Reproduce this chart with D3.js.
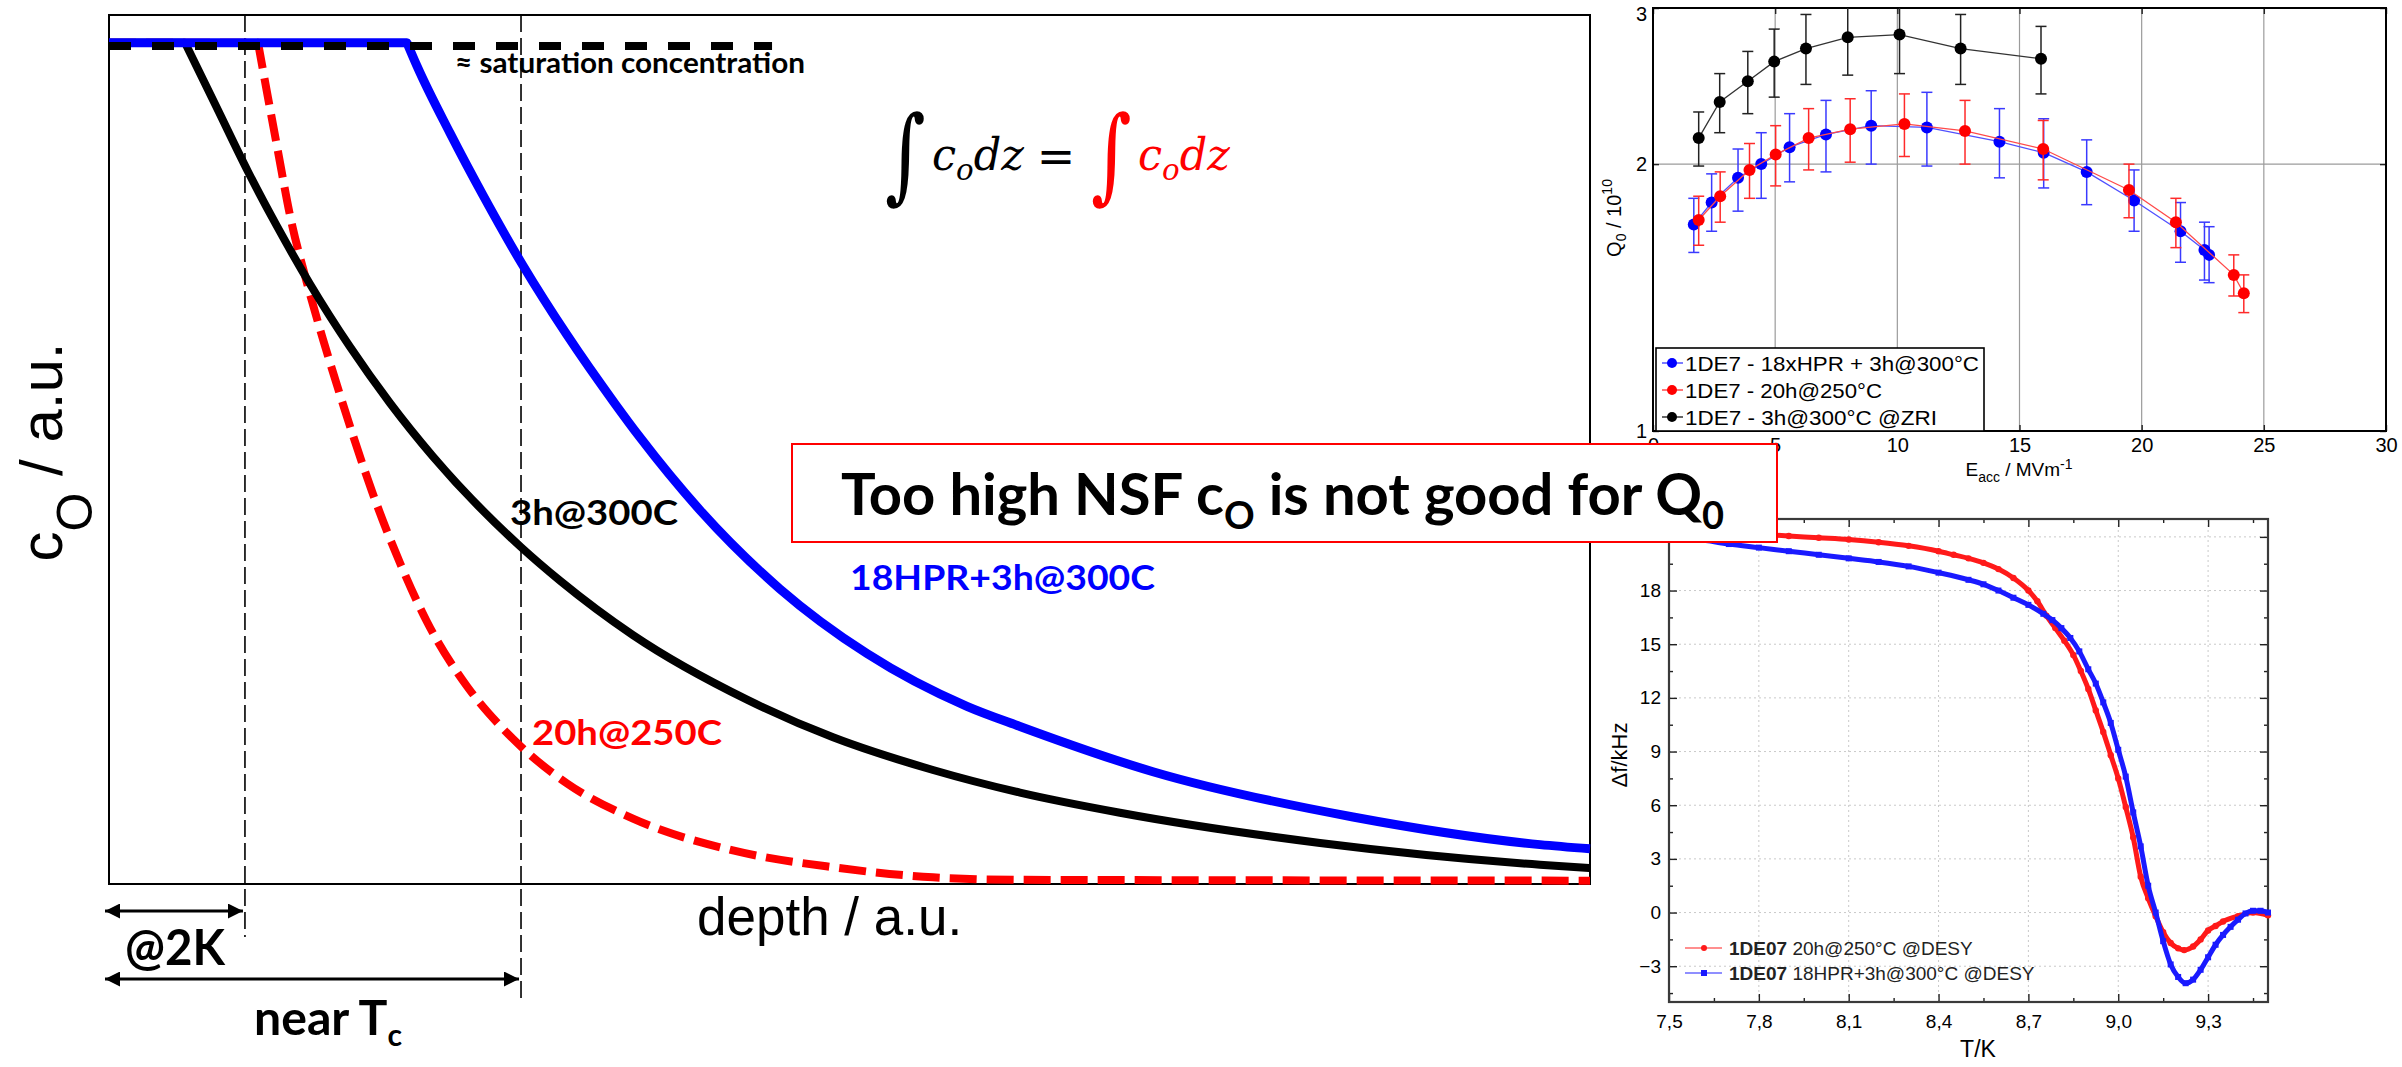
<!DOCTYPE html>
<html>
<head>
<meta charset="utf-8">
<script src="https://cdn.jsdelivr.net/npm/d3@7/dist/d3.min.js"></script>
<style>
  html, body { margin: 0; padding: 0; background: #fff; }
  svg { display: block; }
</style>
</head>
<body>
<svg id="chart" width="2402" height="1067" viewBox="0 0 2402 1067"></svg>
<script>
// ---------- schematic oxygen depth profiles (arbitrary units) ----------
const depth300 = [0, 0.0513, 0.0729, 0.0939, 0.1134, 0.1357, 0.1627, 0.1897, 0.2188, 0.2782, 0.3045, 0.3538, 0.4308, 0.4889, 0.5564, 0.6151, 0.6826, 0.8177, 0.9662, 1.0];
const conc300  = [1.004, 1.004, 0.926, 0.850, 0.785, 0.716, 0.641, 0.574, 0.510, 0.402, 0.362, 0.297, 0.220, 0.175, 0.136, 0.109, 0.085, 0.049, 0.023, 0.019];

const depth250 = [0, 0.1006, 0.1074, 0.1141, 0.1222, 0.1337, 0.1445, 0.1540, 0.1648, 0.1783, 0.1965, 0.2147, 0.2417, 0.2640, 0.2782, 0.3093, 0.3538, 0.4213, 0.4889, 0.5564, 0.6151, 1.0];
const conc250  = [1.004, 1.004, 0.938, 0.874, 0.798, 0.717, 0.650, 0.595, 0.535, 0.465, 0.383, 0.313, 0.236, 0.189, 0.164, 0.120, 0.078, 0.040, 0.020, 0.008, 0.005, 0.004];

const depthHPR = [0, 0.2012, 0.2080, 0.2303, 0.2525, 0.2795, 0.3093, 0.3417, 0.3585, 0.3991, 0.4531, 0.5118, 0.5793, 0.6151, 0.7049, 0.8400, 0.9662, 1.0];
const concHPR  = [1.004, 1.004, 0.976, 0.896, 0.822, 0.738, 0.655, 0.573, 0.533, 0.446, 0.352, 0.275, 0.212, 0.188, 0.134, 0.080, 0.047, 0.042];

const saturationLevel = 1.0;
const saturationEnd = 0.4477;
const markerDepth = [0.0918, 0.2782];

// ---------- Q0 vs Eacc ----------
const eaccTicks = [0, 5, 10, 15, 20, 25, 30];
const q0Ticks = [1, 2, 3];

const hprE  = [1.67, 2.40, 3.48, 4.43, 5.59, 7.08, 8.93, 11.21, 14.18, 15.99, 17.75, 19.69, 21.59, 22.57, 22.76];
const hprQ  = [1.71, 1.81, 1.93, 2.00, 2.09, 2.16, 2.21, 2.20, 2.12, 2.06, 1.96, 1.82, 1.68, 1.60, 1.58];
const hprLo = [1.59, 1.68, 1.77, 1.83, 1.91, 1.96, 2.00, 1.99, 1.93, 1.88, 1.80, 1.68, 1.55, 1.48, 1.47];
const hprHi = [1.83, 1.95, 2.08, 2.17, 2.28, 2.36, 2.42, 2.41, 2.31, 2.25, 2.13, 1.97, 1.81, 1.72, 1.70];

const bakeE  = [1.87, 2.75, 3.95, 5.02, 6.37, 8.07, 10.29, 12.77, 15.97, 19.48, 21.40, 23.77, 24.18];
const bakeQ  = [1.73, 1.84, 1.97, 2.05, 2.14, 2.19, 2.22, 2.18, 2.08, 1.87, 1.72, 1.50, 1.43];
const bakeLo = [1.62, 1.72, 1.83, 1.89, 1.97, 2.01, 2.04, 2.00, 1.92, 1.74, 1.61, 1.42, 1.36];
const bakeHi = [1.84, 1.96, 2.11, 2.21, 2.31, 2.37, 2.40, 2.36, 2.24, 2.00, 1.83, 1.58, 1.50];

const zriE  = [1.87, 2.73, 3.88, 4.96, 6.26, 7.97, 10.09, 12.59, 15.88];
const zriQ  = [2.14, 2.35, 2.48, 2.61, 2.70, 2.78, 2.80, 2.70, 2.63];
const zriLo = [1.99, 2.17, 2.28, 2.38, 2.46, 2.52, 2.53, 2.46, 2.40];
const zriHi = [2.29, 2.53, 2.68, 2.84, 2.95, 3.07, 3.10, 2.95, 2.86];

// ---------- frequency shift vs temperature ----------
const dfTempTicks  = [7.5, 7.8, 8.1, 8.4, 8.7, 9.0, 9.3];
const dfTempMinor  = [7.65, 7.95, 8.25, 8.55, 8.85, 9.15, 9.45];
const dfShiftTicks = [-3, 0, 3, 6, 9, 12, 15, 18, 21];
const dfShiftMinor = [-4.5, -1.5, 1.5, 4.5, 7.5, 10.5, 13.5, 16.5, 19.5];

const dfT250 = [7.50, 7.60, 7.70, 7.80, 7.90, 8.00, 8.10, 8.20, 8.30, 8.40, 8.45, 8.50, 8.55, 8.60, 8.65, 8.70, 8.73, 8.76, 8.79, 8.82, 8.85, 8.875, 8.90, 8.925, 8.95, 8.975, 9.00, 9.025, 9.05, 9.075, 9.10, 9.125, 9.15, 9.175, 9.20, 9.22, 9.25, 9.275, 9.30, 9.325, 9.35, 9.40, 9.45, 9.50];
const df250  = [21.4, 21.3, 21.25, 21.15, 21.05, 20.95, 20.85, 20.7, 20.5, 20.2, 20.0, 19.8, 19.55, 19.2, 18.7, 18.0, 17.4, 16.6, 15.9, 15.2, 14.4, 13.5, 12.5, 11.3, 10.1, 8.8, 7.5, 5.9, 4.2, 2.0, 0.8, -0.2, -1.1, -1.7, -2.0, -2.1, -1.9, -1.5, -1.0, -0.75, -0.5, -0.2, 0.0, -0.15];

const dfT300 = [7.50, 7.60, 7.70, 7.80, 7.90, 8.00, 8.10, 8.20, 8.30, 8.40, 8.50, 8.55, 8.60, 8.65, 8.70, 8.75, 8.78, 8.81, 8.84, 8.87, 8.90, 8.925, 8.95, 8.975, 9.00, 9.025, 9.05, 9.075, 9.10, 9.125, 9.15, 9.175, 9.20, 9.225, 9.25, 9.275, 9.30, 9.325, 9.35, 9.375, 9.40, 9.425, 9.45, 9.475, 9.50];
const df300  = [21.0, 20.85, 20.6, 20.4, 20.2, 20.0, 19.8, 19.6, 19.35, 19.0, 18.6, 18.35, 18.0, 17.6, 17.2, 16.7, 16.35, 15.9, 15.35, 14.6, 13.6, 12.8, 11.75, 10.6, 9.1, 7.6, 5.6, 3.7, 1.5, 0.0, -1.6, -2.9, -3.6, -3.95, -3.75, -3.2, -2.5, -1.8, -1.25, -0.8, -0.4, -0.05, 0.1, 0.1, 0.0];

// ======================================================================
const svg = d3.select("#chart");
const ARIAL = "'Liberation Sans', Arial, Helvetica, sans-serif";
const CAL = "Lato, 'Open Sans', sans-serif";
const SERIF = "'DejaVu Serif', 'Liberation Serif', serif";

const fitW = (sel, w) => sel.attr("textLength", w).attr("lengthAdjust", "spacingAndGlyphs");
function styleAxis(g, size) {
  g.attr("font-family", ARIAL).attr("font-size", size);
  g.selectAll(".tick text").attr("fill", "#000");
  g.selectAll(".tick line").attr("stroke", "#222").attr("stroke-width", 1.4);
  g.select(".domain").remove();
}

const defs = svg.append("defs");
defs.append("marker").attr("id", "arrowHead")
  .attr("viewBox", "0 0 10 10").attr("refX", 10).attr("refY", 5)
  .attr("markerUnits", "userSpaceOnUse").attr("markerWidth", 15).attr("markerHeight", 15)
  .attr("orient", "auto-start-reverse")
  .append("path").attr("d", "M0,0 L10,5 L0,10 Z").attr("fill", "#000");

// ===================== panel 1: concentration profiles =====================
const xD = d3.scaleLinear().domain([0, 1]).range([109, 1590]);
const yC = d3.scaleLinear().domain([0, 1]).range([884, 46]);
const cTop = 1.037;
const p1 = svg.append("g");

// penetration-depth guides
const guideEnd = [937, 1003];
p1.selectAll("line.guide").data(markerDepth).join("line").attr("class", "guide")
  .attr("x1", d => xD(d)).attr("x2", d => xD(d))
  .attr("y1", yC(cTop)).attr("y2", (d, i) => guideEnd[i])
  .attr("stroke", "#000").attr("stroke-width", 1.6).attr("stroke-dasharray", "17,6");

// frame
p1.append("rect").attr("x", xD(0)).attr("y", yC(cTop))
  .attr("width", xD(1) - xD(0)).attr("height", yC(0) - yC(cTop))
  .attr("fill", "none").attr("stroke", "#000").attr("stroke-width", 2);

function profilePath(depth, conc) {
  const pts = depth.map((d, i) => [xD(d), yC(conc[i])]);
  const k = conc.findIndex(c => c < conc[0]) - 1;
  const flat = d3.line()(pts.slice(0, k + 1));
  const tail = d3.line().curve(d3.curveMonotoneX)(pts.slice(k));
  return flat + tail.replace(/^M/, "L");
}
const profiles = [
  { depth: depth250, conc: conc250, color: "#ff0000", width: 8, dash: "27,10" },
  { depth: depth300, conc: conc300, color: "#000000", width: 8, dash: null },
  { depth: depthHPR, conc: concHPR, color: "#0000ff", width: 9, dash: null }
];
profiles.forEach(p => {
  p1.append("path").attr("d", profilePath(p.depth, p.conc))
    .attr("fill", "none").attr("stroke", p.color).attr("stroke-width", p.width)
    .attr("stroke-dasharray", p.dash).attr("stroke-linejoin", "round");
});

// saturation level
p1.append("line").attr("x1", xD(0)).attr("x2", xD(saturationEnd))
  .attr("y1", yC(saturationLevel)).attr("y2", yC(saturationLevel))
  .attr("stroke", "#000").attr("stroke-width", 8).attr("stroke-dasharray", "22,21");
fitW(p1.append("text").attr("x", 455).attr("y", 73).attr("font-family", CAL).attr("font-weight", 700)
  .attr("font-size", 28).text("≈ saturation concentration"), 350);

// curve labels
const lbl = (x, y, txt, col, w) => fitW(p1.append("text").attr("x", x).attr("y", y)
  .attr("font-family", CAL).attr("font-weight", 700).attr("font-size", 35).attr("fill", col).text(txt), w);
lbl(510, 525, "3h@300C", "#000", 168);
lbl(850, 590, "18HPR+3h@300C", "#0000ff", 305);
lbl(532, 745, "20h@250C", "#ff0000", 190);

// axis titles
p1.append("text").attr("x", 697).attr("y", 935).attr("font-family", ARIAL).attr("font-size", 53).text("depth / a.u.");
const yt = p1.append("text").attr("transform", "translate(62,452) rotate(-90)").attr("text-anchor", "middle")
  .attr("font-family", ARIAL).attr("font-size", 60);
yt.append("tspan").text("c");
yt.append("tspan").attr("font-size", 50).attr("dy", 30).text("O");
yt.append("tspan").attr("dy", -30).text(" / a.u.");

// range arrows
const arrowY = [911, 979];
p1.selectAll("line.rng").data(markerDepth).join("line").attr("class", "rng")
  .attr("x1", xD(0) - 4).attr("x2", d => xD(d) - 2)
  .attr("y1", (d, i) => arrowY[i]).attr("y2", (d, i) => arrowY[i])
  .attr("stroke", "#000").attr("stroke-width", 3)
  .attr("marker-start", "url(#arrowHead)").attr("marker-end", "url(#arrowHead)");
fitW(p1.append("text").attr("x", 125).attr("y", 965).attr("font-family", CAL).attr("font-weight", 700)
  .attr("font-size", 50).text("@2K"), 100);
const tc = p1.append("text").attr("x", 254).attr("y", 1035).attr("font-family", CAL).attr("font-weight", 700).attr("font-size", 48);
tc.append("tspan").text("near T");
tc.append("tspan").attr("font-size", 30).attr("dy", 11).text("c");
fitW(tc, 148);

// equal-dose integral
function integral(x, col) {
  p1.append("text").attr("transform", `translate(${x},190) scale(0.75,1)`)
    .attr("font-family", SERIF).attr("font-size", 104).attr("fill", col).text("∫");
}
function cdz(x, col) {
  const t = p1.append("text").attr("x", x).attr("y", 170).attr("font-family", SERIF)
    .attr("font-style", "italic").attr("font-size", 44).attr("fill", col);
  t.append("tspan").text("c");
  t.append("tspan").attr("font-size", 30).attr("dy", 10).text("o");
  t.append("tspan").attr("dy", -10).text("dz");
  fitW(t, 92);
}
integral(885, "#000"); cdz(932, "#000");
p1.append("text").attr("x", 1056).attr("y", 172).attr("text-anchor", "middle")
  .attr("font-family", SERIF).attr("font-size", 46).text("=");
integral(1091, "#ff0000"); cdz(1138, "#ff0000");

// ===================== panel 2: Q0 vs Eacc =====================
const xE = d3.scaleLinear().domain([0, 30]).range([1653, 2386]);
const yQ = d3.scaleLog().domain([1, 3]).range([431, 8]);
const p2 = svg.append("g");

p2.append("g").selectAll("line").data(eaccTicks.filter(t => t > 0 && t < 30)).join("line")
  .attr("x1", d => xE(d)).attr("x2", d => xE(d)).attr("y1", yQ(1)).attr("y2", yQ(3))
  .attr("stroke", "#9b9b9b").attr("stroke-width", 1.2);
p2.append("g").selectAll("line").data(q0Ticks.filter(t => t > 1 && t < 3)).join("line")
  .attr("x1", xE(0)).attr("x2", xE(30)).attr("y1", d => yQ(d)).attr("y2", d => yQ(d))
  .attr("stroke", "#9b9b9b").attr("stroke-width", 1.2);

p2.append("g").attr("transform", `translate(0,${yQ(1)})`)
  .call(d3.axisBottom(xE).tickValues(eaccTicks).tickFormat(d3.format("d")).tickSizeInner(-6).tickSizeOuter(0).tickPadding(7))
  .call(g => styleAxis(g, 20));
p2.append("g").attr("transform", `translate(${xE(0)},0)`)
  .call(d3.axisLeft(yQ).tickValues(q0Ticks).tickFormat(d3.format("d")).tickSizeInner(-6).tickSizeOuter(0).tickPadding(6))
  .call(g => styleAxis(g, 20))
  .call(g => g.selectAll(".tick text").filter(d => d === 3).attr("dy", "0.62em"));
p2.append("g").attr("transform", `translate(0,${yQ(3)})`)
  .call(d3.axisTop(xE).tickValues(eaccTicks).tickFormat(() => "").tickSizeInner(-6).tickSizeOuter(0))
  .call(g => styleAxis(g, 20));
p2.append("g").attr("transform", `translate(${xE(30)},0)`)
  .call(d3.axisRight(yQ).tickValues(q0Ticks).tickFormat(() => "").tickSizeInner(-6).tickSizeOuter(0))
  .call(g => styleAxis(g, 20));
p2.append("rect").attr("x", xE(0)).attr("y", yQ(3)).attr("width", xE(30) - xE(0)).attr("height", yQ(1) - yQ(3))
  .attr("fill", "none").attr("stroke", "#000").attr("stroke-width", 2);

defs.append("clipPath").attr("id", "q0clip").append("rect")
  .attr("x", xE(0)).attr("y", yQ(3)).attr("width", xE(30) - xE(0)).attr("height", yQ(1) - yQ(3));

const q0Series = [
  { label: "1DE7 - 3h@300°C @ZRI", E: zriE, Q: zriQ, lo: zriLo, hi: zriHi, dot: "#000000", line: "#333333", bar: "#222222", w: 252 },
  { label: "1DE7 - 18xHPR + 3h@300°C", E: hprE, Q: hprQ, lo: hprLo, hi: hprHi, dot: "#0000ff", line: "#5050ff", bar: "#3a3aff", w: 294 },
  { label: "1DE7 - 20h@250°C", E: bakeE, Q: bakeQ, lo: bakeLo, hi: bakeHi, dot: "#ff0000", line: "#ff4a4a", bar: "#ff2a2a", w: 197 }
];
const plotQ = p2.append("g").attr("clip-path", "url(#q0clip)");
q0Series.forEach(s => {
  const g = plotQ.append("g");
  const idx = d3.range(s.E.length);
  g.append("path").attr("d", d3.line().x(i => xE(s.E[i])).y(i => yQ(s.Q[i]))(idx))
    .attr("fill", "none").attr("stroke", s.line).attr("stroke-width", 1.3);
  g.selectAll("line.eb").data(idx).join("line").attr("class", "eb")
    .attr("x1", i => xE(s.E[i])).attr("x2", i => xE(s.E[i]))
    .attr("y1", i => yQ(s.lo[i])).attr("y2", i => yQ(s.hi[i]))
    .attr("stroke", s.bar).attr("stroke-width", 1.5);
  ["lo", "hi"].forEach(k => {
    g.selectAll("line.cap" + k).data(idx).join("line").attr("class", "cap" + k)
      .attr("x1", i => xE(s.E[i]) - 5.5).attr("x2", i => xE(s.E[i]) + 5.5)
      .attr("y1", i => yQ(s[k][i])).attr("y2", i => yQ(s[k][i]))
      .attr("stroke", s.bar).attr("stroke-width", 1.5);
  });
  g.selectAll("circle").data(idx).join("circle")
    .attr("cx", i => xE(s.E[i])).attr("cy", i => yQ(s.Q[i])).attr("r", 6).attr("fill", s.dot);
});

// legend
const lgQ = p2.append("g");
lgQ.append("rect").attr("x", 1656).attr("y", 348).attr("width", 328).attr("height", 83)
  .attr("fill", "#fff").attr("stroke", "#000").attr("stroke-width", 1.6);
[q0Series[1], q0Series[2], q0Series[0]].forEach((s, i) => {
  const y = 363 + i * 27;
  lgQ.append("line").attr("x1", 1662).attr("x2", 1683).attr("y1", y).attr("y2", y).attr("stroke", s.line).attr("stroke-width", 1.5);
  lgQ.append("circle").attr("cx", 1672).attr("cy", y).attr("r", 5).attr("fill", s.dot);
  fitW(lgQ.append("text").attr("x", 1685).attr("y", y + 7.5).attr("font-family", ARIAL).attr("font-size", 21).text(s.label), s.w);
});

// axis titles
const qt = p2.append("text").attr("transform", "translate(1621,218) rotate(-90)").attr("text-anchor", "middle")
  .attr("font-family", ARIAL).attr("font-size", 20);
qt.append("tspan").text("Q");
qt.append("tspan").attr("font-size", 14).attr("dy", 5).text("0");
qt.append("tspan").attr("dy", -5).text(" / 10");
qt.append("tspan").attr("font-size", 14).attr("dy", -9).text("10");
const et = p2.append("text").attr("x", 2019).attr("y", 476).attr("text-anchor", "middle")
  .attr("font-family", ARIAL).attr("font-size", 19);
et.append("tspan").text("E");
et.append("tspan").attr("font-size", 14).attr("dy", 6).text("acc");
et.append("tspan").attr("dy", -6).text(" / MVm");
et.append("tspan").attr("font-size", 14).attr("dy", -7).text("-1");

// ===================== panel 3: frequency shift vs T =====================
const xT = d3.scaleLinear().domain([7.5, 9.5]).range([1669, 2268]);
const yF = d3.scaleLinear().domain([-5, 22]).range([1002, 519]);
const p3 = svg.append("g");
const comma = d => d3.format(".1f")(d).replace(".", ",");

p3.append("g").selectAll("line").data(dfTempTicks.slice(1)).join("line")
  .attr("x1", d => xT(d)).attr("x2", d => xT(d)).attr("y1", yF(-5)).attr("y2", yF(22))
  .attr("stroke", "#c9c9c9").attr("stroke-width", 1).attr("stroke-dasharray", "2,3");
p3.append("g").selectAll("line").data(dfShiftTicks).join("line")
  .attr("x1", xT(7.5)).attr("x2", xT(9.5)).attr("y1", d => yF(d)).attr("y2", d => yF(d))
  .attr("stroke", "#c9c9c9").attr("stroke-width", 1).attr("stroke-dasharray", "2,3");

p3.append("g").attr("transform", `translate(0,${yF(-5)})`)
  .call(d3.axisBottom(xT).tickValues(dfTempTicks).tickFormat(comma).tickSizeInner(-8).tickSizeOuter(0).tickPadding(13))
  .call(g => styleAxis(g, 19));
p3.append("g").attr("transform", `translate(0,${yF(-5)})`)
  .call(d3.axisBottom(xT).tickValues(dfTempMinor).tickFormat(() => "").tickSizeInner(-4).tickSizeOuter(0))
  .call(g => styleAxis(g, 19));
p3.append("g").attr("transform", `translate(0,${yF(22)})`)
  .call(d3.axisTop(xT).tickValues(dfTempTicks).tickFormat(() => "").tickSizeInner(-8).tickSizeOuter(0))
  .call(g => styleAxis(g, 19));
p3.append("g").attr("transform", `translate(0,${yF(22)})`)
  .call(d3.axisTop(xT).tickValues(dfTempMinor).tickFormat(() => "").tickSizeInner(-4).tickSizeOuter(0))
  .call(g => styleAxis(g, 19));
p3.append("g").attr("transform", `translate(${xT(7.5)},0)`)
  .call(d3.axisLeft(yF).tickValues(dfShiftTicks).tickFormat(d3.format("d")).tickSizeInner(-8).tickSizeOuter(0).tickPadding(8))
  .call(g => styleAxis(g, 19));
p3.append("g").attr("transform", `translate(${xT(7.5)},0)`)
  .call(d3.axisLeft(yF).tickValues(dfShiftMinor).tickFormat(() => "").tickSizeInner(-4).tickSizeOuter(0))
  .call(g => styleAxis(g, 19));
p3.append("g").attr("transform", `translate(${xT(9.5)},0)`)
  .call(d3.axisRight(yF).tickValues(dfShiftTicks).tickFormat(() => "").tickSizeInner(-8).tickSizeOuter(0))
  .call(g => styleAxis(g, 19));
p3.append("g").attr("transform", `translate(${xT(9.5)},0)`)
  .call(d3.axisRight(yF).tickValues(dfShiftMinor).tickFormat(() => "").tickSizeInner(-4).tickSizeOuter(0))
  .call(g => styleAxis(g, 19));
p3.append("rect").attr("x", xT(7.5)).attr("y", yF(22)).attr("width", xT(9.5) - xT(7.5)).attr("height", yF(-5) - yF(22))
  .attr("fill", "none").attr("stroke", "#3a3a3a").attr("stroke-width", 2.2);

const dfSeries = [
  { T: dfT250, f: df250, col: "#ff1a1a", line: "#ff6a6a", shape: "circle", name: " 20h@250°C @DESY" },
  { T: dfT300, f: df300, col: "#1a1aff", line: "#6a6aff", shape: "square", name: " 18HPR+3h@300°C @DESY" }
];
dfSeries.forEach(s => {
  const idx = d3.range(s.T.length);
  p3.append("path").attr("d", d3.line().curve(d3.curveMonotoneX).x(i => xT(s.T[i])).y(i => yF(s.f[i]))(idx))
    .attr("fill", "none").attr("stroke", s.col).attr("stroke-width", 5).attr("stroke-linejoin", "round");
  if (s.shape === "circle") {
    p3.append("g").selectAll("circle").data(idx).join("circle")
      .attr("cx", i => xT(s.T[i])).attr("cy", i => yF(s.f[i])).attr("r", 3.2).attr("fill", s.col);
  } else {
    p3.append("g").selectAll("rect").data(idx).join("rect")
      .attr("x", i => xT(s.T[i]) - 3).attr("y", i => yF(s.f[i]) - 3).attr("width", 6).attr("height", 6).attr("fill", s.col);
  }
});

// legend
dfSeries.forEach((s, i) => {
  const y = 948 + i * 25;
  p3.append("line").attr("x1", 1685).attr("x2", 1722).attr("y1", y).attr("y2", y).attr("stroke", s.line).attr("stroke-width", 1.5);
  if (s.shape === "circle") p3.append("circle").attr("cx", 1704).attr("cy", y).attr("r", 3).attr("fill", s.col);
  else p3.append("rect").attr("x", 1701).attr("y", y - 3).attr("width", 6).attr("height", 6).attr("fill", s.col);
  const t = p3.append("text").attr("x", 1729).attr("y", y + 7).attr("font-family", ARIAL).attr("font-size", 19).attr("fill", "#222");
  t.append("tspan").attr("font-weight", 700).text("1DE07");
  t.append("tspan").text(s.name);
});

p3.append("text").attr("x", 1978).attr("y", 1057).attr("text-anchor", "middle")
  .attr("font-family", ARIAL).attr("font-size", 23).text("T/K");
p3.append("text").attr("transform", "translate(1627,755) rotate(-90)").attr("text-anchor", "middle")
  .attr("font-family", ARIAL).attr("font-size", 22).text("Δf/kHz");

// ===================== headline box =====================
const box = svg.append("g");
box.append("rect").attr("x", 792).attr("y", 444).attr("width", 985).attr("height", 98)
  .attr("fill", "#fff").attr("stroke", "#ff0000").attr("stroke-width", 2);
const bt = box.append("text").attr("x", 841).attr("y", 515).attr("font-family", CAL).attr("font-weight", 700).attr("font-size", 58);
bt.append("tspan").text("Too high NSF c");
bt.append("tspan").attr("font-size", 38).attr("dy", 14).text("O");
bt.append("tspan").attr("dy", -14).text(" is not good for Q");
bt.append("tspan").attr("font-size", 38).attr("dy", 14).text("0");
fitW(bt, 883);
</script>
</body>
</html>
